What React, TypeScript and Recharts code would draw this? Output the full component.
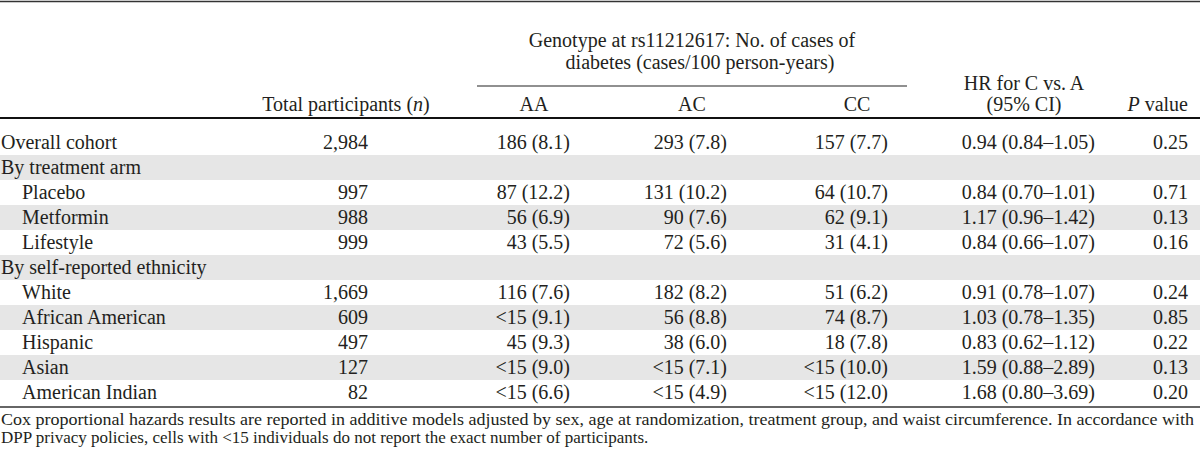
import React from "react";
import { ScatterChart, Scatter, XAxis, YAxis, ReferenceArea, ReferenceLine } from "recharts";

// ---------- data ----------
const LABELS = [
  "Overall cohort",
  "By treatment arm",
  "Placebo",
  "Metformin",
  "Lifestyle",
  "By self-reported ethnicity",
  "White",
  "African American",
  "Hispanic",
  "Asian",
  "American Indian",
];
const INDENTED = [false, false, true, true, true, false, true, true, true, true, true];
const TOTAL = ["2,984", "", "997", "988", "999", "", "1,669", "609", "497", "127", "82"];
const AA = ["186 (8.1)", "", "87 (12.2)", "56 (6.9)", "43 (5.5)", "", "116 (7.6)", "<15 (9.1)", "45 (9.3)", "<15 (9.0)", "<15 (6.6)"];
const AC = ["293 (7.8)", "", "131 (10.2)", "90 (7.6)", "72 (5.6)", "", "182 (8.2)", "56 (8.8)", "38 (6.0)", "<15 (7.1)", "<15 (4.9)"];
const CC = ["157 (7.7)", "", "64 (10.7)", "62 (9.1)", "31 (4.1)", "", "51 (6.2)", "74 (8.7)", "18 (7.8)", "<15 (10.0)", "<15 (12.0)"];
const HR = ["0.94 (0.84–1.05)", "", "0.84 (0.70–1.01)", "1.17 (0.96–1.42)", "0.84 (0.66–1.07)", "", "0.91 (0.78–1.07)", "1.03 (0.78–1.35)", "0.83 (0.62–1.12)", "1.59 (0.88–2.89)", "1.68 (0.80–3.69)"];
const PVAL = ["0.25", "", "0.71", "0.13", "0.16", "", "0.24", "0.85", "0.22", "0.13", "0.20"];

const HEADER_GENOTYPE = ["Genotype at rs11212617: No. of cases of", "diabetes (cases/100 person-years)"];
const HEADER_COLS = ["AA", "AC", "CC"];
const HEADER_HR = ["HR for C vs. A", "(95% CI)"];
const FOOTNOTE = [
  "Cox proportional hazards results are reported in additive models adjusted by sex, age at randomization, treatment group, and waist circumference. In accordance with",
  "DPP privacy policies, cells with <15 individuals do not report the exact number of participants.",
];

// ---------- layout ----------
const W = 1200;
const H = 460;
const ROW0 = 142.5; // pixel centre of first body row
const ROWH = 25;
const toRow = (px: number) => (px - ROW0) / ROWH;
const FONT = "'Liberation Serif', 'Times New Roman', serif";
const INK = "#231f20";
const BODY = 20;

type Cell = {
  x: number;
  row: number;
  text: React.ReactNode;
  anchor: "start" | "middle" | "end";
  size?: number;
  len?: number;
};

const bodyCells: Cell[] = [];
LABELS.forEach((l, i) => bodyCells.push({ x: INDENTED[i] ? 22 : 1, row: i, text: l, anchor: "start" }));
const colDefs: { vals: string[]; x: number; anchor: "start" | "middle" | "end" }[] = [
  { vals: TOTAL, x: 368, anchor: "end" },
  { vals: AA, x: 570, anchor: "end" },
  { vals: AC, x: 727, anchor: "end" },
  { vals: CC, x: 888, anchor: "end" },
  { vals: HR, x: 1095, anchor: "end" },
  { vals: PVAL, x: 1188, anchor: "end" },
];
colDefs.forEach((c) =>
  c.vals.forEach((v, i) => {
    if (v) bodyCells.push({ x: c.x, row: i, text: v, anchor: c.anchor });
  })
);

const headerCells: Cell[] = [
  { x: 692, row: toRow(47), text: HEADER_GENOTYPE[0], anchor: "middle" },
  { x: 700, row: toRow(69), text: HEADER_GENOTYPE[1], anchor: "middle" },
  {
    x: 346,
    row: toRow(111),
    text: (
      <>
        Total participants (<tspan fontStyle="italic">n</tspan>)
      </>
    ),
    anchor: "middle",
  },
  { x: 534, row: toRow(111), text: HEADER_COLS[0], anchor: "middle" },
  { x: 692, row: toRow(111), text: HEADER_COLS[1], anchor: "middle" },
  { x: 857, row: toRow(111), text: HEADER_COLS[2], anchor: "middle" },
  { x: 1024, row: toRow(90), text: HEADER_HR[0], anchor: "middle" },
  { x: 1024, row: toRow(111), text: HEADER_HR[1], anchor: "middle" },
  {
    x: 1188,
    row: toRow(111),
    text: (
      <>
        <tspan fontStyle="italic">P</tspan> value
      </>
    ),
    anchor: "end",
  },
  { x: 1, row: toRow(425), text: FOOTNOTE[0], anchor: "start", size: 17, len: 1193 },
  { x: 1, row: toRow(443), text: FOOTNOTE[1], anchor: "start", size: 17 },
];

const makeShape = (dy: number) => (props: any) => {
  const { cx, cy, payload } = props;
  const p = payload as Cell;
  const extra: any = p.len ? { textLength: p.len, lengthAdjust: "spacingAndGlyphs" } : {};
  return (
    <text
      x={cx}
      y={cy + dy}
      textAnchor={p.anchor}
      fontFamily={FONT}
      fontSize={p.size ?? BODY}
      fill={INK}
      {...extra}
    >
      {p.text}
    </text>
  );
};

const GRAY_ROWS = [1, 3, 5, 7, 9];

export default function App() {
  return (
    <div style={{ position: "absolute", left: 0, top: 0, width: W, height: H, background: "#fff" }}>
      <ScatterChart width={W} height={H} margin={{ top: 0, right: 0, bottom: 0, left: 0 }} style={{ overflow: "visible" }}>
        <XAxis type="number" dataKey="x" domain={[0, W]} hide height={0} />
        <YAxis type="number" dataKey="row" domain={[toRow(0), toRow(H)]} reversed hide width={0} />
        {GRAY_ROWS.map((r) => (
          <ReferenceArea
            key={r}
            x1={0}
            x2={W}
            y1={r - 0.5}
            y2={r + 0.5}
            fill="#e6e6e6"
            fillOpacity={1}
            stroke="none"
            ifOverflow="visible"
          />
        ))}
        <ReferenceLine y={toRow(1.5)} stroke="#333" strokeWidth={1.5} ifOverflow="visible" />
        <ReferenceLine y={toRow(118)} stroke="#111" strokeWidth={2.2} ifOverflow="visible" />
        <ReferenceLine
          segment={[
            { x: 477, y: toRow(86) },
            { x: 907, y: toRow(86) },
          ]}
          stroke="#222"
          strokeWidth={1.2}
          ifOverflow="visible"
        />
        <ReferenceLine y={toRow(407)} stroke="#333" strokeWidth={1.5} ifOverflow="visible" />
        <Scatter data={bodyCells} shape={makeShape(6.5)} isAnimationActive={false} />
        <Scatter data={headerCells} shape={makeShape(0)} isAnimationActive={false} />
      </ScatterChart>
    </div>
  );
}
